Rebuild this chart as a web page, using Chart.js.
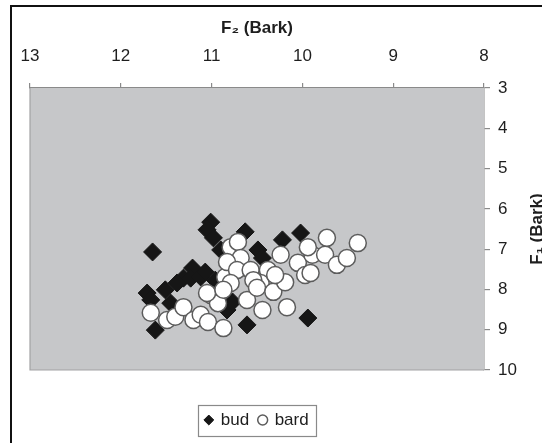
<!DOCTYPE html>
<html>
<head>
<meta charset="utf-8">
<script src="https://cdn.jsdelivr.net/npm/chart.js@4/dist/chart.umd.min.js"></script>
<style>
  html, body { margin: 0; padding: 0; background: #fff; overflow: hidden; width: 542px; height: 443px; }
  #frame { position: absolute; left: 10px; top: 5px; width: 600px; height: 500px; border-left: 2px solid #111; border-top: 2px solid #111; }
  #wrap { position: absolute; left: 0; top: 0; width: 560px; height: 443px; }
</style>
</head>
<body>
<div id="frame"></div>
<div id="wrap"><canvas id="c" width="560" height="443"></canvas></div>
<script>
// ---- data (F2 on x, F1 on y, in Bark) ----
const budF2 = [11.65, 11.01, 11.05, 10.98, 11.21, 11.31, 11.23, 11.12, 11.71, 11.67, 11.45, 11.62, 10.83, 10.77, 10.61, 10.63, 10.49, 10.22, 10.02, 9.94, 11.38, 11.07, 10.96, 10.90, 10.44, 11.51];
const budF1 = [7.07, 6.33, 6.52, 6.72, 7.47, 7.72, 7.72, 7.69, 8.09, 8.26, 8.34, 9.01, 8.51, 8.31, 8.88, 6.57, 7.02, 6.77, 6.60, 8.71, 7.84, 7.57, 7.77, 7.02, 7.22, 8.01];
const bardF2 = [11.67, 11.49, 11.40, 11.31, 11.20, 11.12, 11.04, 11.01, 10.93, 10.87, 10.85, 10.79, 10.71, 10.68, 10.83, 10.72, 10.79, 10.61, 10.57, 10.38, 10.46, 10.54, 10.50, 10.32, 10.19, 10.24, 10.05, 9.97, 9.89, 9.94, 9.75, 9.73, 9.62, 9.51, 9.39, 10.44, 10.17, 10.30, 11.05, 9.91, 10.87];
const bardF1 = [8.58, 8.76, 8.68, 8.44, 8.76, 8.63, 8.81, 8.14, 8.34, 8.96, 7.69, 6.95, 6.82, 7.22, 7.32, 7.52, 7.84, 8.26, 7.52, 7.52, 7.84, 7.77, 7.96, 8.06, 7.82, 7.14, 7.34, 7.64, 7.14, 6.95, 7.14, 6.72, 7.39, 7.22, 6.85, 8.51, 8.44, 7.64, 8.09, 7.59, 8.01];
const seriesNames = ['bud', 'bard'];
const xTitle = 'F\u2082 (Bark)';
const yTitle = 'F\u2081 (Bark)';
const xMin = 8, xMax = 13, yMin = 3, yMax = 10;

const FONT = '"Liberation Sans", Arial, Helvetica, sans-serif';
const toPts = (xs, ys) => xs.map((x, i) => ({ x: x, y: ys[i] }));

const plotBg = {
  id: 'plotBg',
  beforeDatasetsDraw(chart) {
    const { ctx, chartArea: a } = chart;
    ctx.save();
    ctx.fillStyle = '#c6c7c9';
    ctx.fillRect(a.left, a.top, a.right - a.left, a.bottom - a.top);
    ctx.strokeStyle = '#a2a2a4';
    ctx.lineWidth = 1.2;
    ctx.beginPath();
    ctx.moveTo(a.left, a.top);
    ctx.lineTo(a.left, a.bottom);
    ctx.lineTo(a.right, a.bottom);
    ctx.stroke();
    ctx.restore();
  }
};

const extras = {
  id: 'extras',
  afterDraw(chart) {
    const ctx = chart.ctx;
    const a = chart.chartArea;
    ctx.save();
    // right-hand axis title, reading bottom to top
    ctx.translate(537, (a.top + a.bottom) / 2);
    ctx.rotate(-Math.PI / 2);
    ctx.font = 'bold 17px ' + FONT;
    ctx.fillStyle = '#1e1e1e';
    ctx.textAlign = 'center';
    ctx.textBaseline = 'middle';
    ctx.fillText(yTitle, 0, 0);
    ctx.restore();
    // frame round the legend
    const lg = chart.legend;
    if (lg && lg.legendHitBoxes && lg.legendHitBoxes.length) {
      const hb = lg.legendHitBoxes;
      const l = Math.min(...hb.map(h => h.left)) - 7;
      const r = Math.max(...hb.map(h => h.left + h.width)) + 8;
      const cy = hb[0].top + hb[0].height / 2;
      ctx.save();
      ctx.strokeStyle = '#8a8a8a';
      ctx.lineWidth = 1.2;
      ctx.strokeRect(Math.round(l) + 0.5, Math.round(cy - 15) + 0.5, Math.round(r - l), 31);
      ctx.restore();
    }
  }
};

new Chart(document.getElementById('c'), {
  type: 'scatter',
  data: {
    datasets: [
      {
        label: seriesNames[0],
        data: toPts(budF2, budF1),
        pointStyle: 'rectRot',
        pointRadius: 9,
        pointHoverRadius: 9,
        backgroundColor: '#161616',
        borderColor: '#161616',
        borderWidth: 1,
        order: 1
      },
      {
        label: seriesNames[1],
        data: toPts(bardF2, bardF1),
        pointStyle: 'circle',
        pointRadius: 8.5,
        pointHoverRadius: 8.5,
        backgroundColor: '#ffffff',
        borderColor: '#5c5c5c',
        borderWidth: 1.5,
        order: 0
      }
    ]
  },
  options: {
    responsive: false,
    animation: false,
    devicePixelRatio: 1,
    layout: { padding: { left: 30, right: 0, top: 0, bottom: 4.5 } },
    plugins: {
      tooltip: { enabled: false },
      legend: {
        position: 'bottom',
        fullSize: false,
        align: 'center',
        title: { display: true, text: '', font: { size: 10 }, padding: { top: 19.5, bottom: 0 } },
        labels: {
          usePointStyle: true,
          boxWidth: 7,
          boxHeight: 7,
          padding: 10,
          color: '#1e1e1e',
          font: { family: FONT, size: 17 },
          sort: (a, b) => a.datasetIndex - b.datasetIndex
        }
      }
    },
    scales: {
      x: {
        type: 'linear',
        position: 'top',
        reverse: true,
        min: xMin,
        max: xMax,
        afterFit(s) { s.height = 88; },
        ticks: { stepSize: 1, padding: 16, color: '#1e1e1e', font: { family: FONT, size: 17 } },
        grid: { drawOnChartArea: false, drawTicks: true, tickLength: 5, color: '#8a8a8a', lineWidth: 1.2 },
        border: { display: true, color: '#8a8a8a', width: 1.5 },
        title: { display: true, text: xTitle, color: '#1e1e1e', font: { family: FONT, size: 17, weight: 'bold' }, padding: { top: 18, bottom: 0 } }
      },
      y: {
        type: 'linear',
        position: 'right',
        reverse: true,
        min: yMin,
        max: yMax,
        afterFit(s) { s.width = 76; },
        ticks: { stepSize: 1, padding: 8, color: '#1e1e1e', font: { family: FONT, size: 17 } },
        grid: { drawOnChartArea: false, drawTicks: true, tickLength: 6, color: '#8a8a8a', lineWidth: 1.2 },
        border: { display: true, color: '#8a8a8a', width: 1.5 },
        title: { display: false }
      }
    }
  },
  plugins: [plotBg, extras]
});
</script>
</body>
</html>
